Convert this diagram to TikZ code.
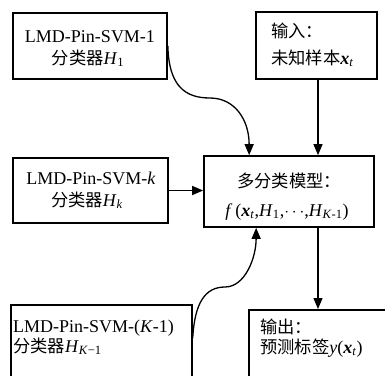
\documentclass[tikz,border=0pt]{standalone}
\usepackage{fontspec}
\setmainfont{Liberation Serif}
\newfontfamily\cjk[Scale=0.96]{Noto Sans CJK SC}
\usetikzlibrary{arrows.meta}
\newcommand\mi[1]{\textit{#1}}
\newcommand\bxv{\textbf{\textit{x}}}
\newcommand\sbs[1]{\textsubscript{#1}}
\begin{document}
\begin{tikzpicture}[x=1pt,y=-1pt,
  font=\fontsize{18}{22}\selectfont,
  box/.style={draw, line width=1.7pt, inner sep=0pt, rectangle},
  txt/.style={inner sep=0pt, anchor=base},
  ltxt/.style={inner sep=0pt, anchor=base west},
  arr/.style={-{Triangle[length=11pt,width=9pt]}, line width=1.3pt}]
\useasboundingbox (0,0) rectangle (385,375);
% boxes
\node[box, minimum width=154pt, minimum height=66pt] (b1) at (90,46) {};
\node[box, minimum width=155pt, minimum height=65pt] (bk) at (90.5,190.5) {};
\node[box, minimum width=121pt, minimum height=67pt] (in) at (316.5,45.5) {};
\node[box, minimum width=170pt, minimum height=71pt] (m) at (289,191.5) {};
\node[box, minimum width=181pt, minimum height=100pt, anchor=north west] (kb) at (10,304) {};
\node[box, minimum width=160pt, minimum height=100pt, anchor=north west] (out) at (248,309) {};
% texts
\node[txt] (t1a) at (90,42) {LMD-Pin-SVM-1};
\node[txt] (t1b) at (88,64) {{\cjk 分类器}\mi{H}\sbs{1}};
\node[txt] (tka) at (91,184) {LMD-Pin-SVM-\mi{k}};
\node[txt] (tkb) at (87,206) {{\cjk 分类器}\mi{H}\sbs{\mi{k}}};
\node[ltxt] (tia) at (271,37) {\cjk 输入：};
\node[ltxt] (tib) at (271,64) {{\cjk 未知样本}\bxv\sbs{\mi{t}}};
\node[txt] (tma) at (289,187) {\cjk 多分类模型：};
\node[txt] (tmb) at (287,216) {\mi{f}\,(\bxv\sbs{\mi{t}},\mi{H}\sbs{1},$\cdots$,\mi{H}\sbs{\mi{K}-1})};
\node[ltxt] (tKa) at (13,332) {LMD-Pin-SVM-(\mi{K}-1)};
\node[ltxt] (tKb) at (13,352) {{\cjk 分类器}\mi{H}\sbs{\mi{K}−1}};
\node[ltxt] (toa) at (260,333) {\cjk 输出：};
\node[ltxt] (tob) at (260,353) {{\cjk 预测标签}\mi{y}(\bxv\sbs{\mi{t}})};
% connectors
\coordinate (c1) at (210,98);
\coordinate (c2) at (225,287);
\coordinate (s2) at ([yshift=-34pt]kb.north east);
\draw[arr] (b1.east) .. controls +(1,40) and +(-25,0) .. (c1)
  .. controls +(25,0) and +(0,-35) .. ([xshift=46pt]m.north west);
\draw[arr] (s2) .. controls +(2,-35) and +(-20,0) .. (c2)
  .. controls +(20,0) and +(0,30) .. ([xshift=53pt]m.south west);
\draw[arr] (bk.east) -- (bk.east -| m.west);
\draw[arr] ([xshift=1.5pt]in.south) -- ([xshift=1.5pt]in.south |- m.north);
\draw[arr] ([xshift=1.5pt]in.south |- m.south) -- ([xshift=1.5pt]in.south |- out.north);
\end{tikzpicture}
\end{document}
